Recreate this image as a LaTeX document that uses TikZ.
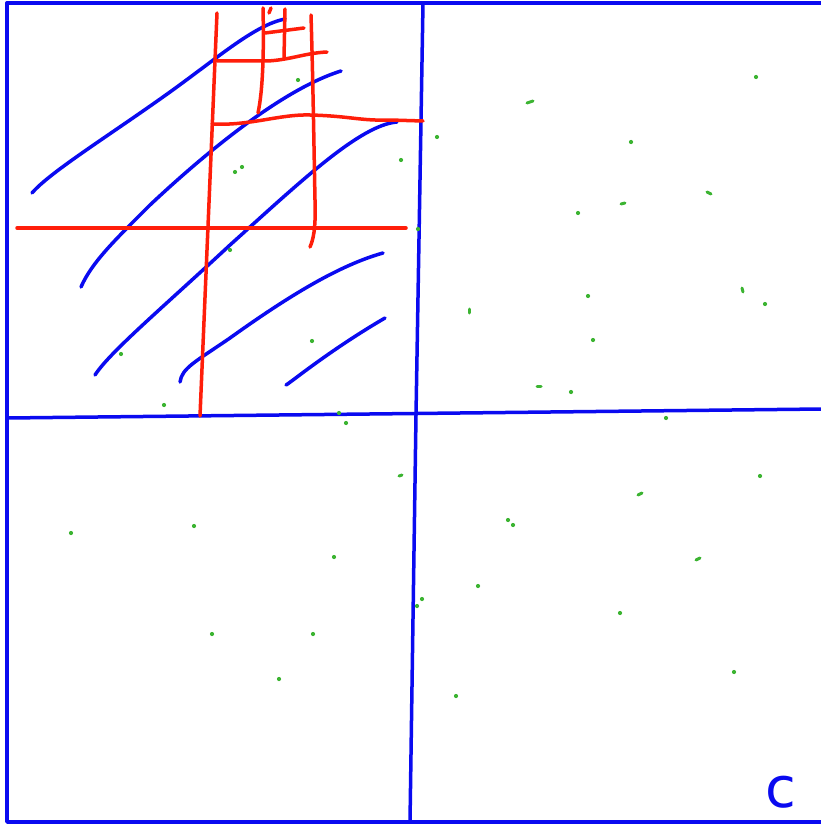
\documentclass[tikz,border=0pt]{standalone}
\usepackage{fontspec}
\setmainfont{DejaVu Sans}
\definecolor{penblue}{RGB}{10,10,240}
\definecolor{penred}{RGB}{255,30,10}
\definecolor{pengreen}{RGB}{60,180,50}
\tikzset{
  bluestroke/.style={draw=penblue,line width=3.5pt,line cap=round,line join=round},
  redstroke/.style={draw=penred,line width=3.5pt,line cap=round,line join=round},
  greendot/.style={fill=pengreen,draw=none},
  greentick/.style={draw=pengreen,line width=3pt,line cap=round},
}
\begin{document}
\begin{tikzpicture}[x=1pt,y=-1pt]
\useasboundingbox (0,0) rectangle (820,824);
\fill[white] (0,0) rectangle (820,824);
% frame and quadrant lines
\draw[bluestroke] (7,3) -- (822,3);
\draw[bluestroke] (7,3) -- (7,822) -- (822,822);
\draw[bluestroke] (423,3) -- (416,415) -- (410,822);
\draw[bluestroke] (7,418) -- (822,409);
% blue hatch strokes
\draw[bluestroke] (32,193) .. controls (50,172) and (110,135) .. (170,92) .. controls (220,56) and (255,25) .. (285,19);
\draw[bluestroke] (81,287) .. controls (92,262) and (115,240) .. (150,205) .. controls (200,158) and (280,90) .. (341,71);
\draw[bluestroke] (95,375) .. controls (110,352) and (160,310) .. (230,245) .. controls (300,182) and (360,125) .. (397,122);
\draw[bluestroke] (180,382) .. controls (182,368) and (195,362) .. (230,338) .. controls (290,295) and (340,265) .. (383,253);
\draw[bluestroke] (286,385) .. controls (290,383) and (330,350) .. (385,318);
% red strokes
\draw[redstroke] (217,13) -- (200,416);
\draw[redstroke] (17,228) -- (406,228);
\draw[redstroke] (311,15) .. controls (313,80) and (314,150) .. (315,200) .. controls (316,230) and (313,240) .. (310,247);
\draw[redstroke] (212,124) .. controls (250,126) and (280,114) .. (310,115) .. controls (350,116) and (360,121) .. (390,120) -- (423,121);
\draw[redstroke] (217,61) -- (267,61) .. controls (290,60) and (305,53) .. (327,52);
\draw[redstroke] (263,8) .. controls (264,50) and (263,90) .. (258,113);
\draw[redstroke] (285,9) -- (284,59);
\draw[redstroke] (265,33) -- (304,28);
\draw[redstroke] (269,13) -- (271,8);
% green dots
\foreach \p in {(756,77),(298,80),(437,137),(631,142),(401,160),(242,167),(235,172),(578,213),(418,229),(230,250),(588,296),(765,304),(312,341),(593,340),(121,354),(571,392),(164,405),(339,413),(346,423),(666,418),(760,476),(508,520),(513,525),(71,533),(194,526),(334,557),(478,586),(422,599),(417,606),(620,613),(212,634),(313,634),(279,679),(734,672),(456,696)}
  \fill[greendot] \p circle (2.1);
\draw[greentick] (527,103) -- (533,101);
\draw[greentick] (707,192) -- (711,194);
\draw[greentick] (621,204) -- (625,203);
\draw[greentick] (742,288) -- (743,292);
\draw[greentick] (469,309) -- (469,313);
\draw[greentick] (537,386) -- (541,386);
\draw[greentick] (399,476) -- (402,475);
\draw[greentick] (638,495) -- (642,493);
\draw[greentick] (696,560) -- (700,558);
\node[text=penblue,font=\fontsize{56}{60}\selectfont,inner sep=0pt] (c) at (781,792) {c};
\end{tikzpicture}
\end{document}
